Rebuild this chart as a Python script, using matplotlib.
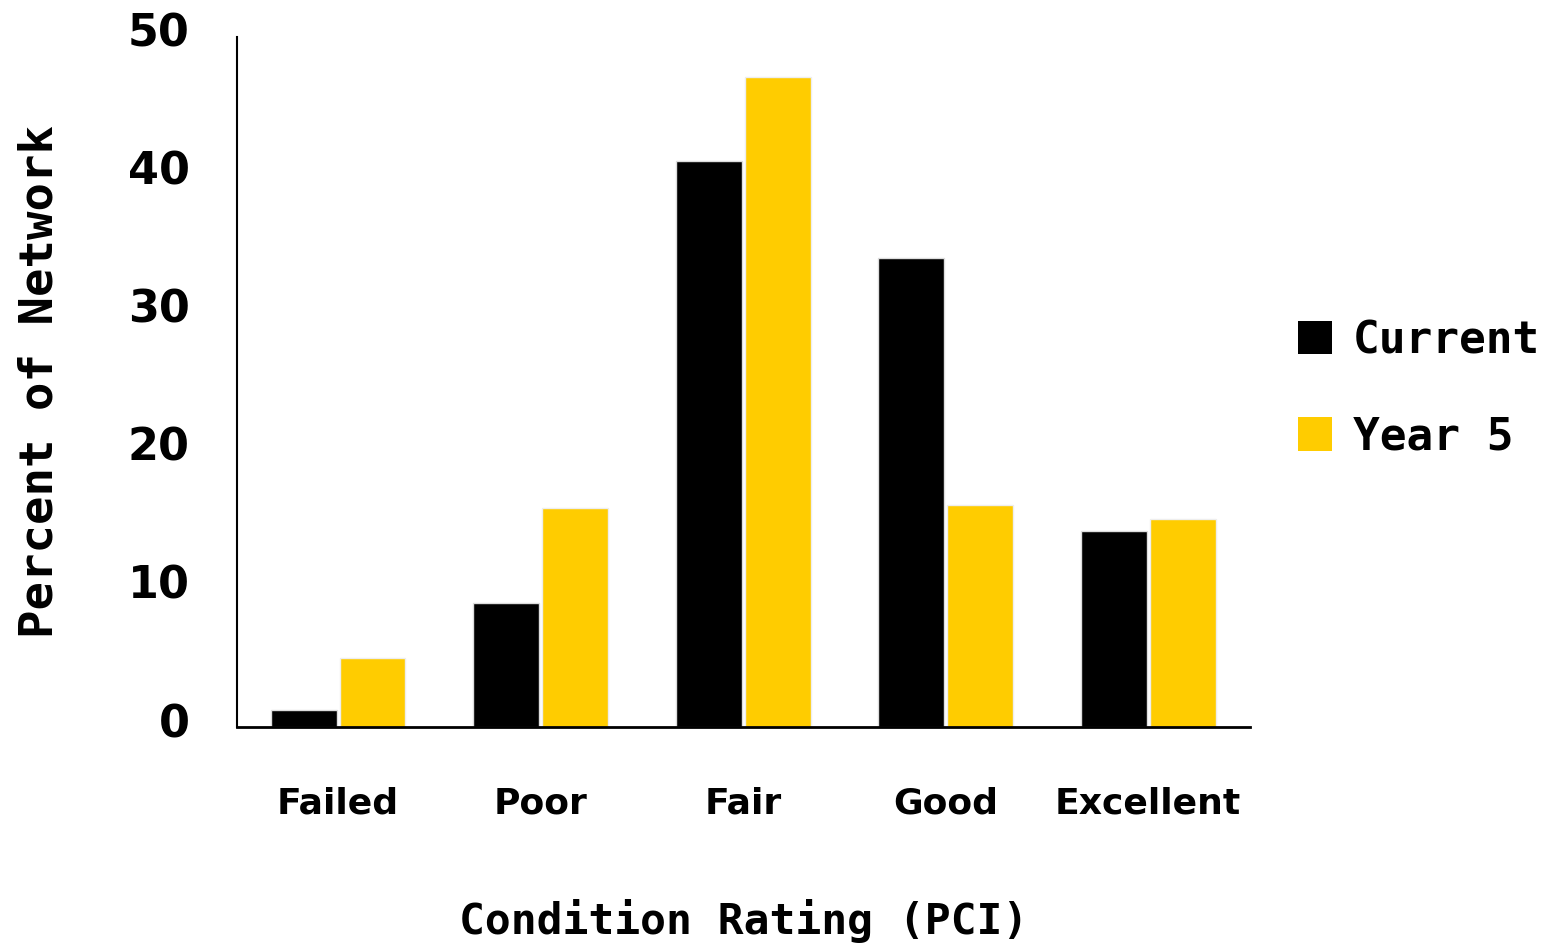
import numpy as np
import matplotlib
matplotlib.use("Agg")
import matplotlib.pyplot as plt
import matplotlib.transforms as mtransforms
from matplotlib.patches import Patch

# ---------------- DATA ----------------
categories = ["Failed", "Poor", "Fair", "Good", "Excellent"]
current = [1.2, 9.0, 41.0, 34.0, 14.2]
year5 = [5.0, 15.9, 47.1, 16.1, 15.1]

BLACK = "#000000"
YELLOW = "#FFCC00"
label_font = "DejaVu Sans Mono"

fig = plt.figure(figsize=(15.58, 9.47), dpi=100)
ax = fig.add_axes([0.152, 0.2323, 0.650, 0.7287])

x = np.arange(len(categories))
w = 0.325
ax.bar(x - 0.17, current, width=w, color=BLACK, edgecolor="#dddddd", linewidth=1, label="Current")
ax.bar(x + 0.17, year5, width=w, color=YELLOW, edgecolor="#eeeeee", linewidth=1, label="Year 5")

ax.set_xlim(-0.5, len(categories) - 0.5)
ax.set_ylim(0, 50)
ax.set_yticks(np.arange(0, 51, 10))
ax.set_xticks(x)
ax.set_xticklabels(categories, fontsize=26, fontweight="bold", family="DejaVu Sans")

# white notches on the baseline between categories
ax.set_xticks(np.arange(0.5, len(categories) - 0.5), minor=True)
ax.tick_params(axis="x", which="minor", direction="inout", length=8, width=2, color="white")
ax.tick_params(axis="x", which="major", length=0, pad=43)
ax.tick_params(axis="y", which="major", direction="in", length=6, width=1, color="white", pad=34)

# y tick labels sit a little above their ticks
lift = mtransforms.ScaledTranslation(0, 7 / 100, fig.dpi_scale_trans)
for lbl in ax.get_yticklabels():
    lbl.set_fontsize(32)
    lbl.set_fontweight("bold")
    lbl.set_family("DejaVu Sans")
    lbl.set_transform(lbl.get_transform() + lift)

for side in ["top", "right"]:
    ax.spines[side].set_visible(False)
ax.spines["left"].set_linewidth(1.5)
ax.spines["bottom"].set_linewidth(2)

ax.set_ylabel("Percent of Network", fontsize=34, fontweight="bold", family=label_font, labelpad=47)
ax.set_xlabel("Condition Rating (PCI)", fontsize=31, fontweight="bold", family=label_font, labelpad=56)

handles = [Patch(facecolor=BLACK, label="Current"), Patch(facecolor=YELLOW, label="Year 5")]
ax.legend(handles=handles, loc="center left", bbox_to_anchor=(1.008, 0.49), frameon=False,
          prop={"family": label_font, "weight": "bold", "size": 32},
          handlelength=0.77, handleheight=0.77, handletextpad=0.47, labelspacing=1.2)

fig.savefig("out.png", dpi=100)
